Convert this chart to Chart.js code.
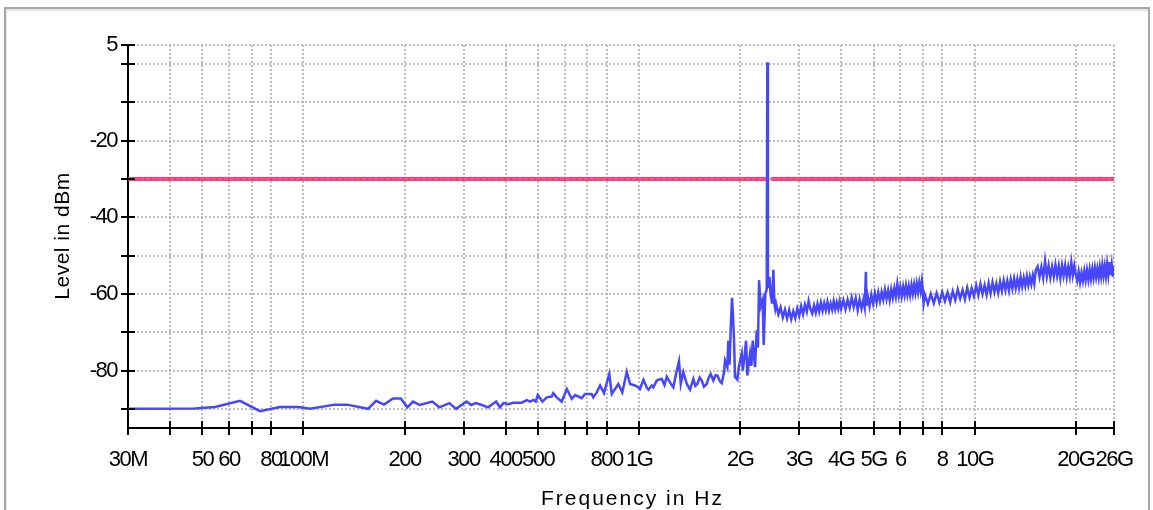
<!DOCTYPE html>
<html><head><meta charset="utf-8">
<script src="https://cdn.jsdelivr.net/npm/chart.js@4.4.1/dist/chart.umd.min.js"></script>
<style>
html,body{margin:0;padding:0;background:#fff;width:1153px;height:510px;overflow:hidden;}
#wrap{position:relative;width:1153px;height:510px;}
#c{position:absolute;left:0;top:0;}
#frame{position:absolute;left:4px;top:7px;width:1142px;height:520px;border:2px solid #a8a8a8;border-bottom:none;box-shadow:inset 1px 2px 0 #e8e8e8;pointer-events:none;}
</style></head><body>
<div id="wrap"><canvas id="c" width="1153" height="510"></canvas><div id="frame"></div></div>
<script>
// ---- Data (frequency in MHz, level in dBm) ----
const lowFreqMHz = [30,47.5,54.5,64.7,74.2,85.1,96.3,104.6,124,134.8,155.7,164.5,173.8,184.8,195,204,212,222,242,254,272,285,306,316,326,340,355,375,385,394,408,422,447,463,473,484,492,499,515,531,549,555,568,588,609,630,645,675,690,722,730,748,765,786,815,829,867,891,919,940,972,995];
const lowLevel = [-90,-89.9,-89.5,-87.9,-90.6,-89.5,-89.5,-90,-88.9,-88.9,-90,-87.9,-88.9,-87.3,-87.3,-89.6,-88.1,-89,-88.1,-89.6,-88.5,-90,-88.1,-89,-88.5,-89,-89.6,-88.1,-89.6,-88.5,-88.8,-88.4,-88.4,-87.7,-88.1,-87.7,-88.1,-86.4,-88.1,-87,-86.8,-85.9,-87,-88.1,-84.8,-87.4,-86.4,-87.2,-86.1,-86.1,-87,-85.7,-83.9,-85.9,-80.9,-86.1,-83.5,-85.7,-80.3,-83.5,-83.9,-84.4];

const midFreqMHz = [1006,1030,1054,1066,1091,1103,1129,1141,1168,1190,1209,1236,1265,1288,1315,1331,1354,1387,1418,1451,1470,1491,1515,1537,1560,1590,1610,1634,1664,1690,1711,1740,1763,1790,1803,1832,1844,1860,1875,1892,1905,1918,1931,1962,1981,2022,2036,2060,2083,2101,2140,2160,2180,2215,2241,2260,2277,2303,2335,2351,2377,2400,2410,2420,2427,2445,2467,2490,2512,2530,2545];
const midLevel = [-84.8,-82.4,-84.4,-85,-83.9,-84.4,-82.6,-82.4,-82.2,-83.8,-81.6,-83.1,-84.4,-80.9,-77.6,-83.5,-80.4,-83.5,-85,-82.2,-84,-83.5,-81.8,-82.6,-84.2,-83.5,-82,-80.9,-82.6,-81.2,-81.3,-82.8,-83.3,-80.5,-77.4,-79.1,-72.2,-78.5,-68.7,-61,-66,-72.2,-81.7,-82.4,-79.1,-75.6,-80,-76.5,-72.2,-81.3,-75.6,-78.8,-72.2,-79.1,-69.5,-74,-56.4,-63.3,-61.6,-73.3,-60,-58.8,0.5,-56.5,-58.5,-55.5,-60.3,-62.5,-53.7,-62.5,-63.9];

const bandAFreqMHz = [2560,2600,2640,2680,2720,2760,2800,2840,2880,2920,2960,3000,3040,3080,3120,3160,3200,3240,3280,3320,3360,3400,3440,3480,3520,3560,3600,3640,3680,3720,3760,3800,3840,3880,3920,3960,4000];
const bandALevel = [-62.6,-65.3,-63.5,-66.1,-64.1,-66.4,-64.2,-66.6,-64.5,-66.3,-63.8,-65.7,-63.2,-65.3,-62.8,-64.6,-61.8,-64,-65.1,-63,-64.9,-62.6,-64.6,-62.3,-64.4,-62.4,-64.2,-62.1,-64.3,-62.5,-64.1,-61.9,-64,-62.2,-63.9,-61.8,-63.8];

const bandBFreqMHz = [4060,4120,4180,4240,4300,4360,4420,4480,4540,4600,4660,4700,4740,4760,4800,4860,4920,4980,5040,5100,5160,5220,5280,5340,5400,5460,5520,5580,5640,5700,5760,5820,5880,5940,6000,6060,6120,6180,6240,6300,6360,6420,6480,6540,6600,6660,6720,6780,6840,6900,6960,7000,7040];
const bandBLevel = [-61.6,-64,-61.5,-63.6,-60.9,-63.4,-61.1,-64.2,-61.4,-63.8,-61.5,-63.4,-54.2,-63.1,-60.6,-63.2,-60.2,-62.5,-59.8,-62.2,-59.6,-61.9,-59.5,-61.5,-58.9,-61.3,-59.1,-61.6,-58.8,-61,-58.5,-60.7,-57.4,-60.4,-58.2,-60.6,-58.1,-60.3,-57.8,-60.2,-58,-60.3,-57.7,-59.9,-57.5,-59.7,-57.3,-59.5,-57.1,-59.2,-56.6,-58.8,-62.4];

const bandCFreqMHz = [7100,7250,7400,7550,7700,7850,8000,8150,8300,8450,8600,8750,8900,9050,9200,9350,9500,9650,9800,9950,10100,10250,10400,10550,10700,10850,11000,11150,11300,11450,11600,11750,11900,12050,12200,12350,12500,12650,12800,12950,13100,13250,13400,13550,13700,13850,14000,14150,14300,14450,14600,14750,14900,15050,15200];
const bandCLevel = [-60.2,-62.6,-60,-62.4,-59.8,-62.2,-59.5,-61.9,-59.6,-62.2,-59.3,-61.6,-58.8,-61.2,-59,-61.4,-58.4,-60.9,-58.5,-60.6,-57.8,-60.3,-57.4,-60,-57.7,-60.2,-57.2,-59.8,-57,-59.5,-57.3,-59.7,-56.8,-59.2,-56.5,-59,-56.6,-59.1,-56.2,-58.6,-56,-58.5,-56.1,-58.4,-55.6,-58.1,-55.8,-57.9,-55.4,-57.7,-55.5,-57.4,-55.2,-57.3,-53.8];

const bandDFreqMHz = [15400,15600,15800,16000,16200,16400,16600,16800,17000,17200,17400,17600,17800,18000,18200,18400,18600,18800,19000,19200,19400,19600,19800,20000,20200,20400,20600,20800,21000,21200,21400,21600,21800,22000,22200,22400,22600,22800,23000,23200,23400,23600,23800,24000,24200,24400,24600,24800,25000,25200,25400,25600,25800,26000];
const bandDLevel = [-52.8,-55.6,-53,-55.8,-51.4,-55.4,-52.6,-55.7,-52.9,-55.5,-52.4,-55.3,-52.7,-55.9,-52.6,-55.2,-52.5,-55.6,-53,-55.4,-51.8,-55.1,-52.6,-54.9,-56.5,-54.2,-56.9,-54.5,-56.6,-54,-56.4,-53.8,-56.2,-53.6,-56.1,-53.5,-55.8,-53.2,-55.6,-53.4,-55.7,-53,-55.4,-52.5,-55.2,-52.8,-55.3,-52.2,-54.9,-51.7,-55.1,-52.4,-55.5,-52.6];

const limitFreqMHz = [30,2435,2450,2470,26000];
const limitLevel = [-30,-30,null,-30,-30];

const xTickValues = [30,40,50,60,70,80,100,200,300,400,500,600,700,800,1000,2000,3000,4000,5000,6000,7000,8000,10000,20000,26000];
const xTickLabels = ['30M','','50','60','','80','100M','200','300','400','500','','','800','1G','2G','3G','4G','5G','6','','8','10G','20G','26G'];
const yTickValues = [-90,-80,-70,-60,-50,-40,-30,-20,-10,0,5];
const yTickLabels = ['','-80','','-60','','-40','','-20','','','5'];

// ---- Build points ----
function pts(f, l){ return f.map((v,i)=>({x:v, y:l[i]})); }
const traceData = [].concat(
  pts(lowFreqMHz, lowLevel), pts(midFreqMHz, midLevel),
  pts(bandAFreqMHz, bandALevel), pts(bandBFreqMHz, bandBLevel),
  pts(bandCFreqMHz, bandCLevel), pts(bandDFreqMHz, bandDLevel));
const limitData = pts(limitFreqMHz, limitLevel);

const FONT = '"Liberation Sans", Arial, sans-serif';
Chart.defaults.font.family = FONT;
Chart.defaults.color = '#000';

const spacing = {
  id: 'spacing',
  beforeDraw(chart){ chart.ctx.letterSpacing = '-1.5px'; }
};
const extras = {
  id: 'extras',
  afterDraw(chart){
    const {ctx, chartArea:a, scales:{x, y}} = chart;
    ctx.save();
    ctx.letterSpacing = '0px';
    ctx.strokeStyle = '#000'; ctx.lineWidth = 2; ctx.setLineDash([]);
    x.ticks.forEach(t => {
      const p = Math.round(x.getPixelForValue(t.value));
      ctx.beginPath(); ctx.moveTo(p, a.bottom); ctx.lineTo(p, a.bottom - 7); ctx.stroke();
    });
    y.ticks.forEach(t => {
      const p = Math.round(y.getPixelForValue(t.value));
      ctx.beginPath(); ctx.moveTo(a.left, p); ctx.lineTo(a.left + 7, p); ctx.stroke();
    });
    ctx.fillStyle = '#000';
    ctx.font = '21px ' + FONT;
    ctx.letterSpacing = '2px';
    ctx.textAlign = 'left'; ctx.textBaseline = 'alphabetic';
    ctx.fillText('Frequency in Hz', 541, 505);
    ctx.letterSpacing = '0.5px';
    ctx.translate(69, 236); ctx.rotate(-Math.PI/2);
    ctx.textAlign = 'center';
    ctx.fillText('Level in dBm', 0, 0);
    ctx.restore();
  }
};

new Chart(document.getElementById('c'), {
  type: 'line',
  data: {
    datasets: [
      { label: 'Level', data: traceData, borderColor: '#4747ff', borderWidth: 2.5, pointRadius: 0, fill: false, tension: 0, order: 0 },
      { label: 'Limit dash', data: limitData, borderColor: '#ff50d0', borderWidth: 1.5, borderDash: [4, 2], pointRadius: 0, fill: false, spanGaps: false, order: 1 },
      { label: 'Limit', data: limitData, borderColor: '#ff3b62', borderWidth: 4, pointRadius: 0, fill: false, spanGaps: false, order: 2 }
    ]
  },
  options: {
    responsive: false, animation: false, devicePixelRatio: 1,
    layout: { padding: { top: 45, right: 39, bottom: 0, left: 0 } },
    plugins: { legend: { display: false }, tooltip: { enabled: false } },
    scales: {
      x: {
        type: 'logarithmic', min: 30, max: 26000,
        afterBuildTicks: s => { s.ticks = xTickValues.map(v => ({ value: v })); },
        afterFit: s => { s.height = 82; },
        ticks: { autoSkip: false, maxRotation: 0, minRotation: 0, padding: 12,
          font: { size: 22 }, color: '#000',
          callback: (v, i) => xTickLabels[i] },
        grid: { color: '#bdbdbd', lineWidth: 2, drawTicks: true, tickLength: 7, tickColor: '#000', tickWidth: 2, tickBorderDash: [] },
        border: { display: true, color: '#000', width: 2, dash: [2, 2] }
      },
      y: {
        type: 'linear', min: -95, max: 5,
        afterBuildTicks: s => { s.ticks = yTickValues.map(v => ({ value: v })); },
        afterFit: s => { s.width = 128; },
        ticks: { autoSkip: false, padding: 4, font: { size: 22 }, color: '#000',
          callback: (v, i) => yTickLabels[i] },
        grid: { color: '#bdbdbd', lineWidth: 2, drawTicks: true, tickLength: 7, tickColor: '#000', tickWidth: 2, tickBorderDash: [] },
        border: { display: true, color: '#000', width: 2, dash: [2, 2] }
      }
    }
  },
  plugins: [spacing, extras]
});
</script></body></html>
